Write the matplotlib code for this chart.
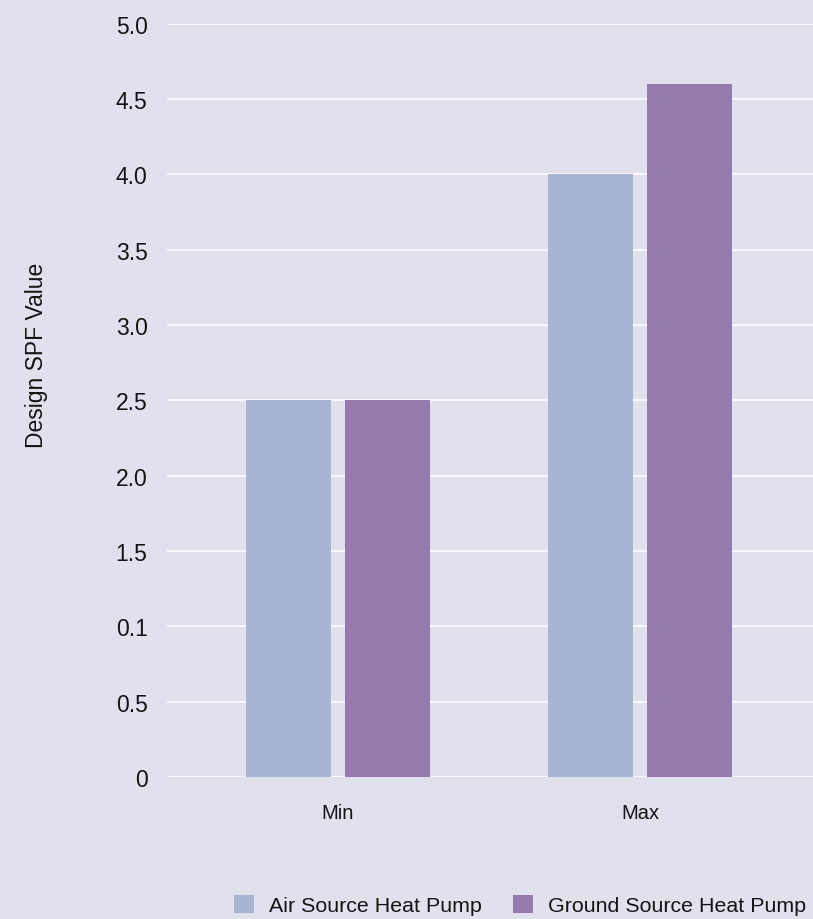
import matplotlib
matplotlib.use("Agg")
import matplotlib.pyplot as plt
import numpy as np
from matplotlib.patches import Patch

plt.rcParams['font.family'] = ['Liberation Sans', 'DejaVu Sans']

# Data
categories = ["Min", "Max"]
series_names = ["Air Source Heat Pump", "Ground Source Heat Pump"]
air_source = [2.5, 4.0]
ground_source = [2.5, 4.6]
y_ticks = [0, 0.5, 1.0, 1.5, 2.0, 2.5, 3.0, 3.5, 4.0, 4.5, 5.0]
y_tick_labels = ["0", "0.5", "0.1", "1.5", "2.0", "2.5", "3.0", "3.5", "4.0", "4.5", "5.0"]

bg = "#E1E1EE"
colors = ["#A9B4D2", "#967AAD"]
text_color = "#141414"

fig = plt.figure(figsize=(8.13, 9.2), dpi=100, facecolor=bg)
ax = fig.add_axes([167 / 813, 1 - 778 / 920, 1 - 167 / 813, (778 - 24.7) / 920])
ax.set_facecolor(bg)

x = np.arange(len(categories))
width = 0.281
offset = 0.164
ax.bar(x - offset, air_source, width, color=colors[0], zorder=3)
ax.bar(x + offset, ground_source, width, color=colors[1], zorder=3)

ax.set_xlim(-0.566, 1.573)
ax.set_ylim(0, 5)
ax.set_yticks(y_ticks)
ax.set_yticklabels(y_tick_labels)
ax.set_xticks(x)
ax.set_xticklabels(categories)

ax.yaxis.grid(True, color="white", linewidth=1.1, zorder=0)
ax.xaxis.grid(False)
for s in ax.spines.values():
    s.set_visible(False)
ax.tick_params(axis="y", length=0, pad=14, labelsize=16.5, labelcolor=text_color)
ax.tick_params(axis="x", length=0, pad=19, labelsize=14.5, labelcolor=text_color)

fig.text(37 / 813, 1 - 355 / 920, "Design SPF Value", rotation=90,
         ha="center", va="center", fontsize=16.5, color=text_color)

handles = [Patch(facecolor=c, edgecolor="none") for c in colors]
fig.legend(handles, series_names, loc="center", bbox_to_anchor=(520 / 813, 1 - 906 / 920),
           ncol=2, frameon=False, fontsize=15.4, handlelength=0.94, handleheight=0.94,
           handletextpad=0.7, columnspacing=1.45, labelcolor=text_color)

fig.savefig("out.png", dpi=100, facecolor=bg)
